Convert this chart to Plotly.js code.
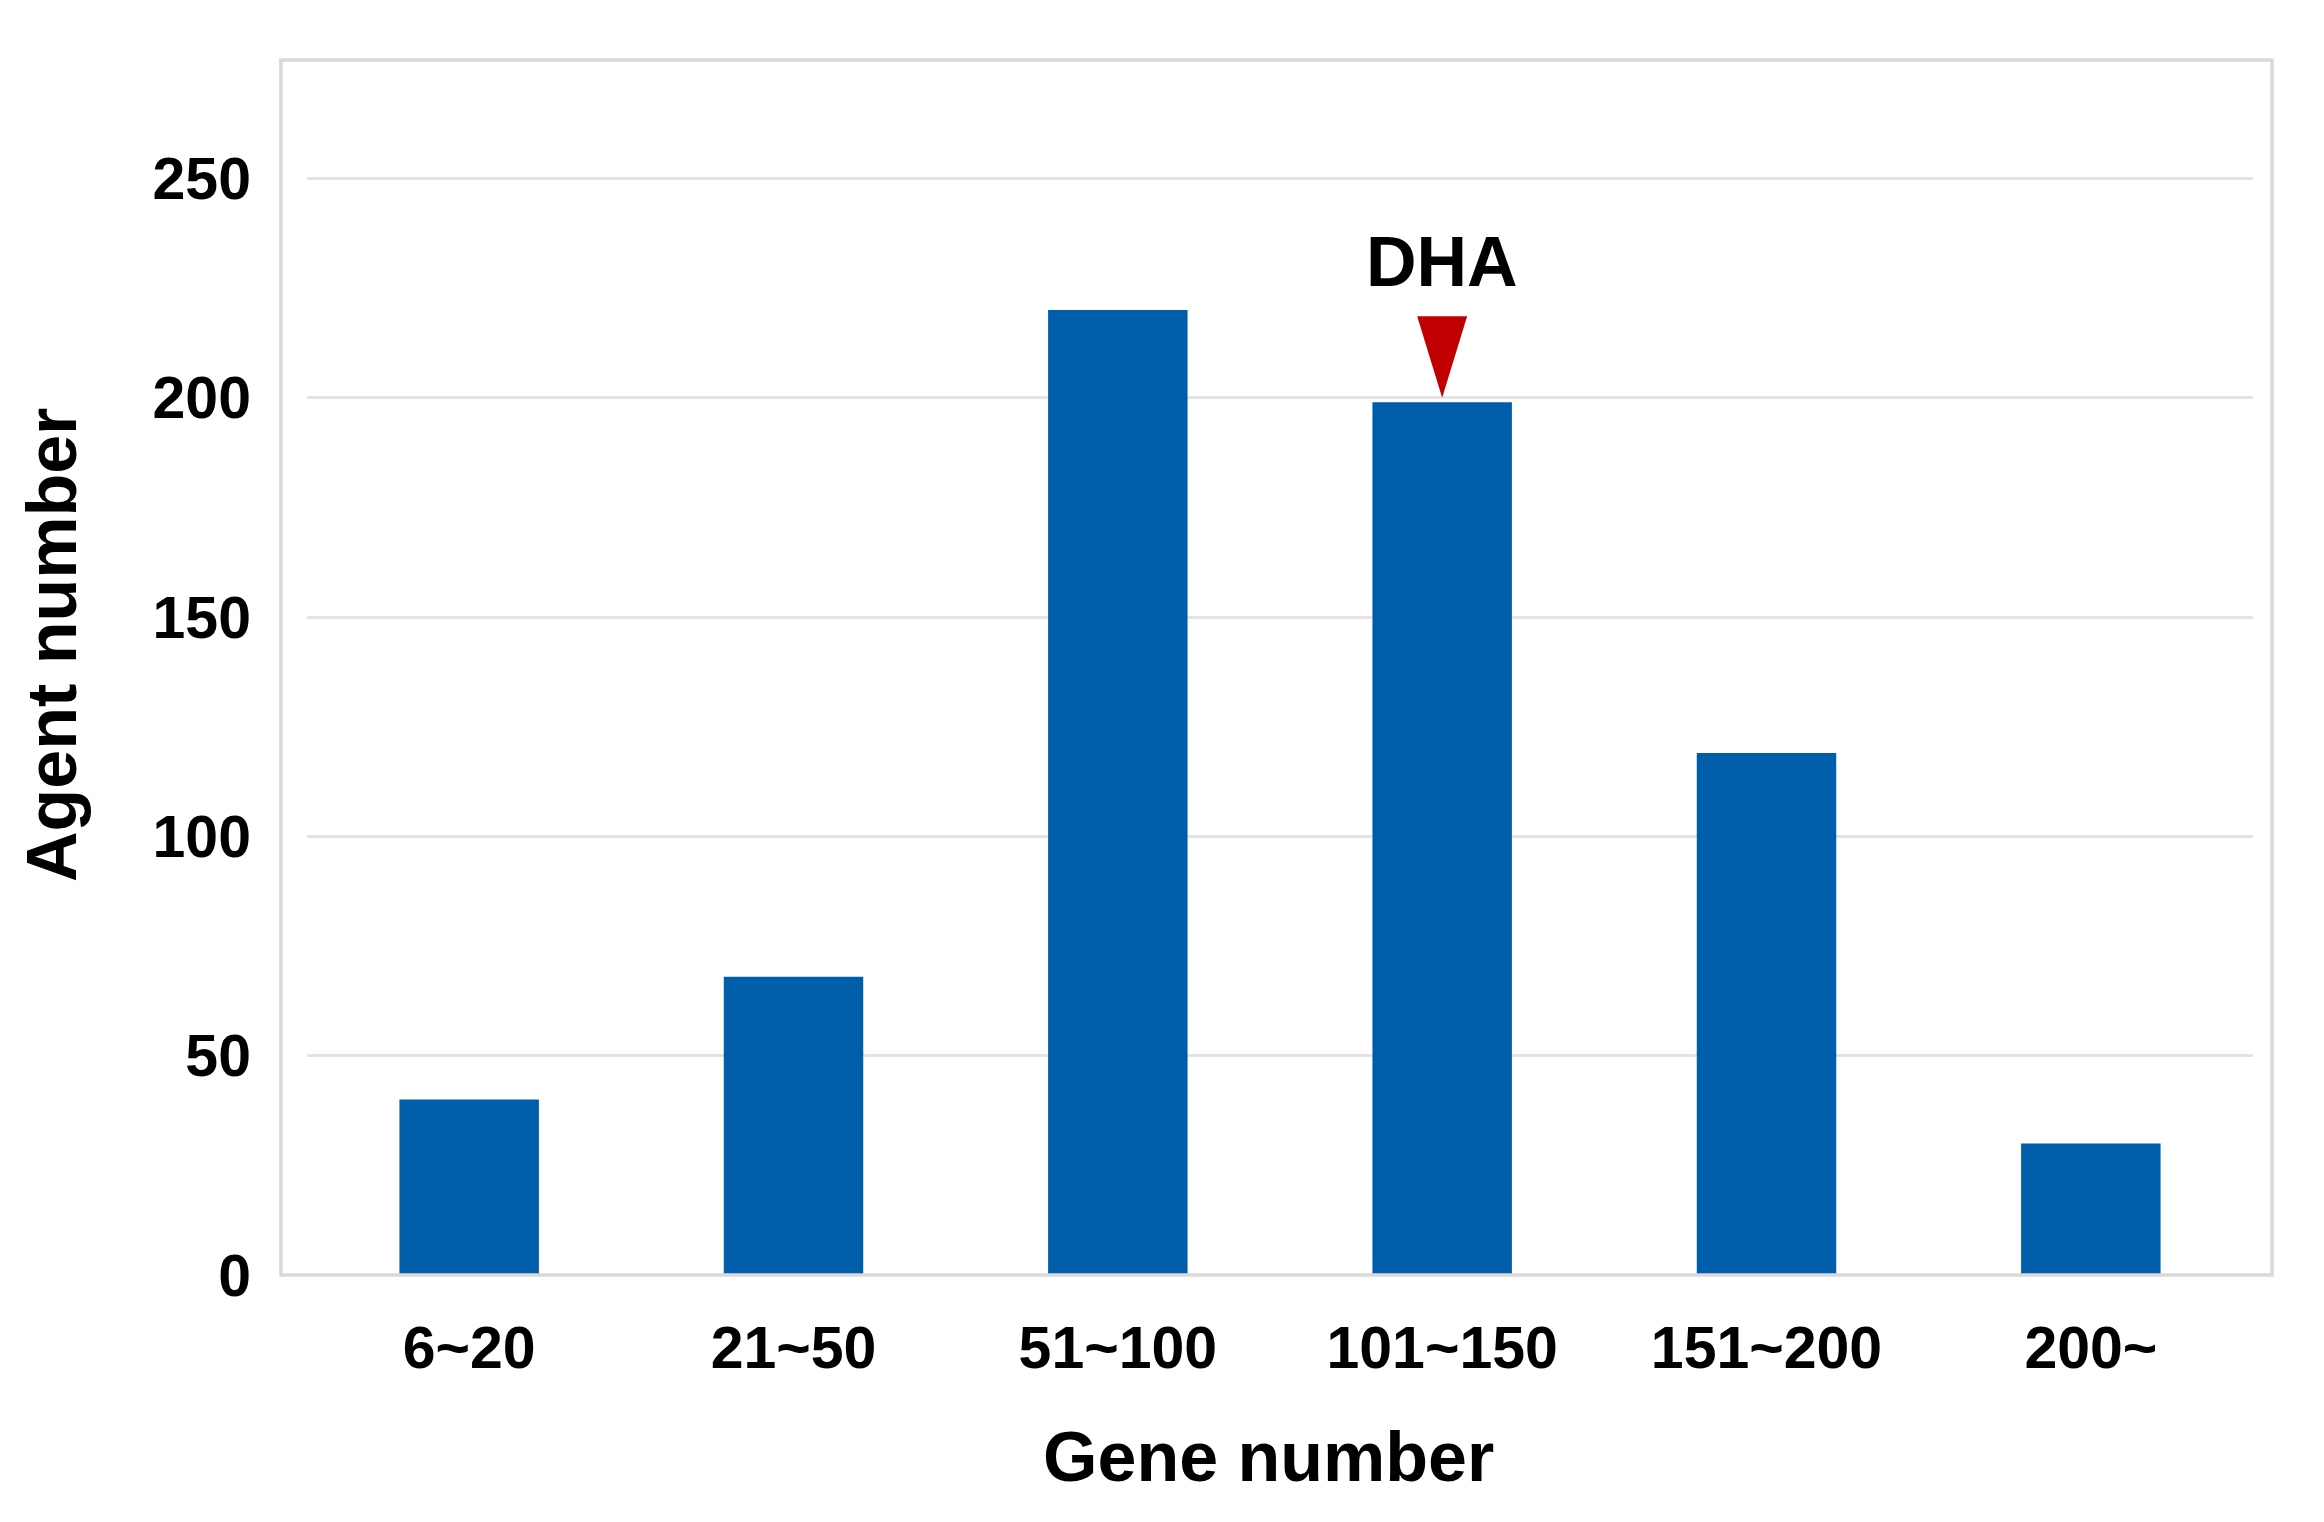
<!DOCTYPE html>
<html>
<head>
<meta charset="utf-8">
<script src="https://cdn.plot.ly/plotly-3.0.1.min.js"></script>
<style>
  html, body { margin: 0; padding: 0; background: #ffffff; }
  #chart { width: 2324px; height: 1522px; }
</style>
</head>
<body>
<div id="chart"></div>
<script>
// ---- data ----
const categories = ['6~20', '21~50', '51~100', '101~150', '151~200', '200~'];
const agentCounts = [40, 68, 220, 199, 119, 30];
const yTickValues = [0, 50, 100, 150, 200, 250];
const markedCategory = '101~150';
const markedLabel = 'DHA';
const xTitle = 'Gene number';
const yTitle = 'Agent number';

const FONT = 'Liberation Sans, Arial, Helvetica, sans-serif';
const n = categories.length;
const idx = categories.indexOf(markedCategory);
const markPaperX = (idx + 0.5) / n;
const triHalf = 0.077 / n;      // half width of the marker triangle (paper units)

const trace = {
  type: 'bar',
  x: categories,
  y: agentCounts,
  marker: { color: '#005DAA', line: { width: 0 } },
  hoverinfo: 'x+y'
};

const layout = {
  width: 2324,
  height: 1522,
  margin: { l: 307, r: 71, t: 60, b: 247, pad: 0 },
  paper_bgcolor: '#ffffff',
  plot_bgcolor: '#ffffff',
  showlegend: false,
  bargap: 0.57,
  font: { family: FONT, color: '#000000', weight: 700 },
  xaxis: {
    type: 'category',
    range: [-0.5, n - 0.5],
    showgrid: false,
    zeroline: false,
    showline: false,
    ticks: '',
    ticklabelstandoff: 33,
    tickfont: { family: FONT, size: 59, color: '#000000', weight: 700 },
    fixedrange: true
  },
  yaxis: {
    range: [0, 277],
    tickvals: yTickValues,
    ticktext: yTickValues.map(String),
    showgrid: true,
    gridcolor: '#e3e3e3',
    gridwidth: 3,
    zeroline: false,
    showline: false,
    ticks: '',
    ticklabelstandoff: 55,
    tickfont: { family: FONT, size: 59, color: '#000000', weight: 700 },
    fixedrange: true
  },
  shapes: [
    {
      type: 'rect', xref: 'paper', yref: 'paper',
      x0: -0.0134, x1: 1.0098, y0: 0, y1: 1,
      line: { color: '#d9d9d9', width: 3.5 },
      fillcolor: 'rgba(0,0,0,0)',
      layer: 'above'
    },
    {
      type: 'path', xref: 'paper', yref: 'y',
      path: 'M ' + (markPaperX - triHalf) + ' 218.6 L ' + (markPaperX + triHalf) + ' 218.6 L ' + markPaperX + ' 200 Z',
      fillcolor: '#C00000',
      line: { width: 0 },
      layer: 'above'
    }
  ],
  annotations: [
    {
      x: markedCategory, y: 231, xref: 'x', yref: 'y',
      text: markedLabel, showarrow: false,
      xanchor: 'center', yanchor: 'middle',
      font: { family: FONT, size: 70, color: '#000000', weight: 700 }
    },
    {
      x: 0.494, y: -0.1497, xref: 'paper', yref: 'paper',
      text: xTitle, showarrow: false,
      xanchor: 'center', yanchor: 'middle',
      font: { family: FONT, size: 70, color: '#000000', weight: 700 }
    },
    {
      x: -0.131, y: 0.5185, xref: 'paper', yref: 'paper',
      text: yTitle, showarrow: false, textangle: -90,
      xanchor: 'center', yanchor: 'middle',
      font: { family: FONT, size: 70, color: '#000000', weight: 700 }
    }
  ]
};

Plotly.newPlot('chart', [trace], layout, { displayModeBar: false, staticPlot: true });
</script>
</body>
</html>
